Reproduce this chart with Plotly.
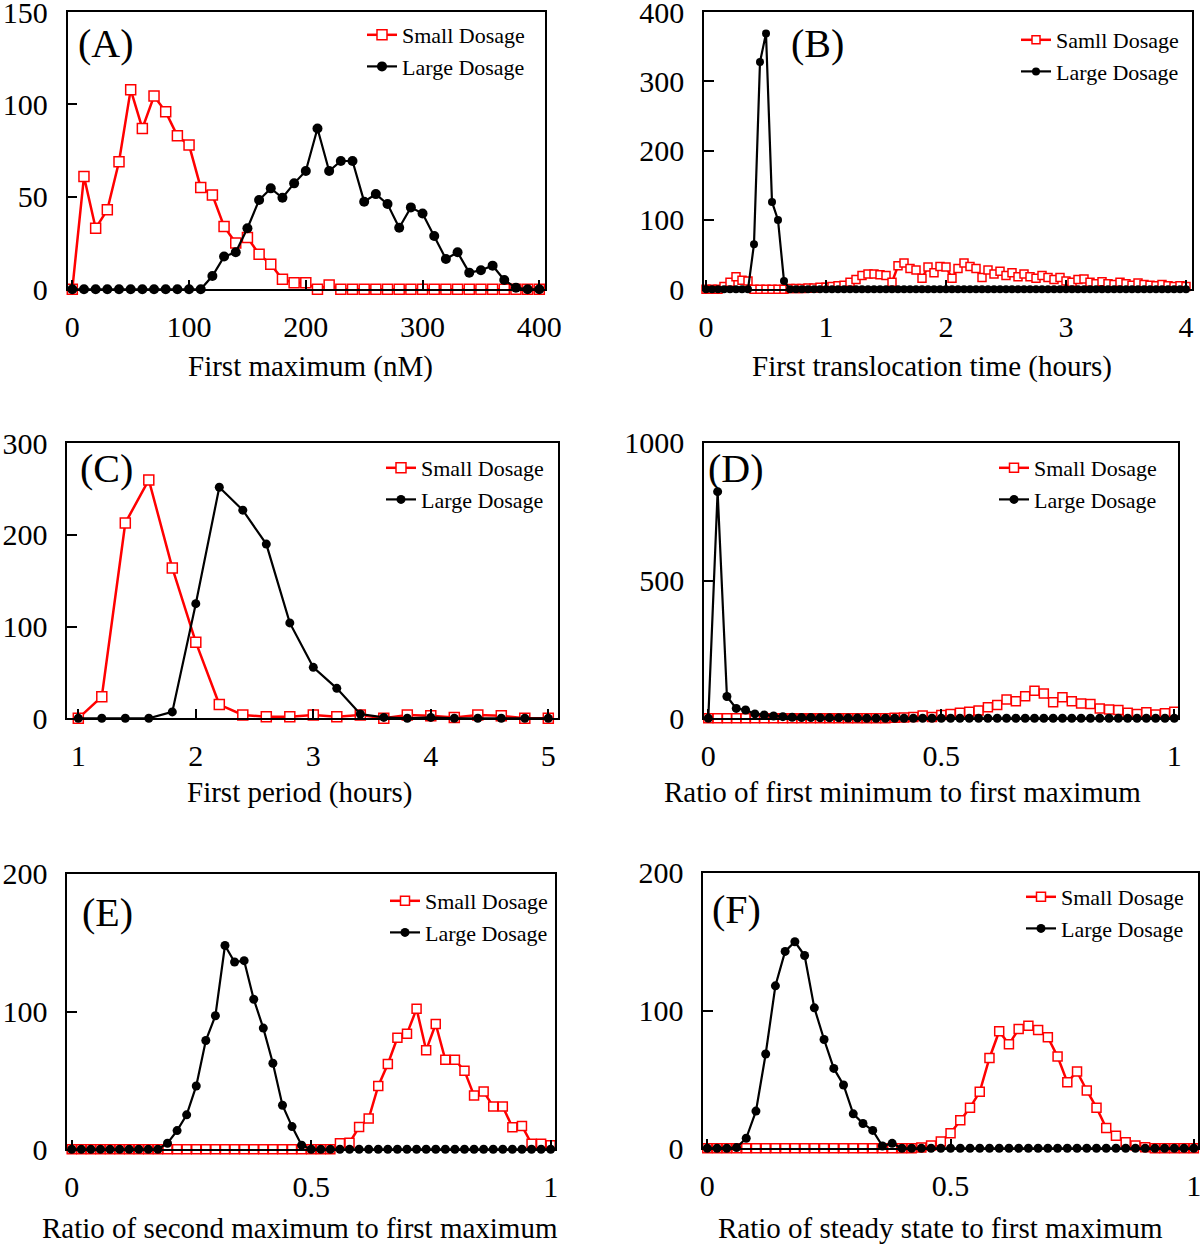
import plotly.graph_objects as go

# ---------------- data ----------------
a_x = [0, 10, 20, 30, 40, 50, 60, 70, 80, 90, 100, 110, 120, 130, 140, 150, 160, 170, 180, 190, 200,
       210, 220, 230, 240, 250, 260, 270, 280, 290, 300, 310, 320, 330, 340, 350, 360, 370, 380, 390, 400]
a_small = [0, 61, 33, 43, 69, 108, 87, 104.5, 96, 83, 78, 55, 51, 34, 25, 28, 19, 13.5, 5.4, 3.6, 3.6,
           0, 2.3, 0, 0, 0, 0, 0, 0, 0, 0, 0, 0, 0, 0, 0, 0, 0, 0, 0, 0]
a_large = [0, 0, 0, 0, 0, 0, 0, 0, 0, 0, 0, 0, 7.2, 17.7, 20, 33, 48.3, 54.6, 49.5, 57.3, 64,
           87, 64, 69.4, 69.4, 47.4, 51.5, 46.1, 33.3, 44.3, 41, 28.8, 16.4, 20, 9, 10.3, 12.8, 5, 0.9, 0, 0]

b_x = [0.0, 0.05, 0.1, 0.15, 0.2, 0.25, 0.3, 0.35, 0.4, 0.45, 0.5, 0.55, 0.6, 0.65, 0.7, 0.75, 0.8, 0.85,
       0.9, 0.95, 1.0, 1.05, 1.1, 1.15, 1.2, 1.25, 1.3, 1.35, 1.4, 1.45, 1.5, 1.55, 1.6, 1.65, 1.7, 1.75,
       1.8, 1.85, 1.9, 1.95, 2.0, 2.05, 2.1, 2.15, 2.2, 2.25, 2.3, 2.35, 2.4, 2.45, 2.5, 2.55, 2.6, 2.65,
       2.7, 2.75, 2.8, 2.85, 2.9, 2.95, 3.0, 3.05, 3.1, 3.15, 3.2, 3.25, 3.3, 3.35, 3.4, 3.45, 3.5, 3.55,
       3.6, 3.65, 3.7, 3.75, 3.8, 3.85, 3.9, 3.95, 4.0]
b_small = [0, 0, 0, 4, 10, 18, 13, 12, 0, 0, 0, 0, 0, 0, 1, 1, 1, 2, 2, 3, 3, 4, 5, 6, 10, 14, 20, 22,
           22, 21, 20, 10, 34, 38, 30, 28, 16, 32, 24, 33, 32, 16, 30, 38, 33, 30, 17, 28, 22, 26, 20,
           24, 18, 22, 18, 16, 20, 17, 14, 17, 12, 10, 14, 15, 10, 8, 11, 8, 7, 10, 8, 6, 9, 7, 6, 5,
           7, 5, 4, 5, 4]
b_large = [0, 0, 0, 0, 0, 0, 0, 0, 65, 328, 369, 126, 100, 12, 0, 0, 0, 0, 0, 0, 0, 0, 0, 0, 0, 0, 0,
           0, 0, 0, 0, 0, 0, 0, 0, 0, 0, 0, 0, 0, 0, 0, 0, 0, 0, 0, 0, 0, 0, 0, 0, 0, 0, 0, 0, 0, 0,
           0, 0, 0, 0, 0, 0, 0, 0, 0, 0, 0, 0, 0, 0, 0, 0, 0, 0, 0, 0, 0, 0, 0, 0]

c_x = [1.0, 1.2, 1.4, 1.6, 1.8, 2.0, 2.2, 2.4, 2.6, 2.8, 3.0, 3.2, 3.4, 3.6, 3.8, 4.0, 4.2, 4.4, 4.6, 4.8, 5.0]
c_small = [0, 23.6, 213, 260, 164, 83, 15, 3.6, 1.8, 1.8, 3.6, 1.8, 3.6, 0, 3.6, 2.7, 0.9, 3.6, 2.7, 0, 0]
c_large = [0, 0, 0, 0, 7, 125, 252, 227, 190, 104, 55.6, 32.7, 4.7, 1, 0, 1, 0, 0, 0, 0, 0]

r_x = [0.0, 0.02, 0.04, 0.06, 0.08, 0.1, 0.12, 0.14, 0.16, 0.18, 0.2, 0.22, 0.24, 0.26, 0.28, 0.3,
       0.32, 0.34, 0.36, 0.38, 0.4, 0.42, 0.44, 0.46, 0.48, 0.5, 0.52, 0.54, 0.56, 0.58, 0.6, 0.62,
       0.64, 0.66, 0.68, 0.7, 0.72, 0.74, 0.76, 0.78, 0.8, 0.82, 0.84, 0.86, 0.88, 0.9, 0.92, 0.94,
       0.96, 0.98, 1.0]
d_small = [0, 0, 0, 0, 0, 0, 0, 0, 0, 0, 0, 0, 0, 0, 0, 0, 0, 0, 0, 0, 2, 3, 5, 10, 5, 12, 16, 20, 24,
           28, 40, 48, 68, 62, 80, 100, 90, 58, 76, 62, 54, 52, 36, 32, 30, 20, 16, 22, 14, 18, 24]
d_large = [0, 823, 79, 36, 30, 16, 12, 8.5, 6, 4, 3, 3, 2, 2, 2, 1, 1, 0, 0, 0, 0, 0, 0, 0, 0, 0, 0,
           0, 0, 0, 0, 0, 0, 0, 0, 0, 0, 0, 0, 0, 0, 0, 0, 0, 0, 0, 0, 0, 0, 0, 0]

e_small = [0, 0, 0, 0, 0, 0, 0, 0, 0, 0, 0, 0, 0, 0, 0, 0, 0, 0, 0, 0, 0, 0, 0, 0, 0, 0, 0, 0, 4.4,
           4.8, 16.2, 22.3, 46, 62, 81, 84, 102, 72, 91, 65, 65, 57, 39, 42, 31, 31, 16, 17, 4, 4, 3]
e_large = [0, 0, 0, 0, 0, 0, 0, 0, 0, 0, 4.4, 13.6, 25, 46, 79, 97, 148, 136, 137, 109, 88, 62.5, 32,
           16.5, 3, 0, 0, 0, 0, 0, 0, 0, 0, 0, 0, 0, 0, 0, 0, 0, 0, 0, 0, 0, 0, 0, 0, 0, 0, 0, 0]

f_small = [0, 0, 0, 0, 0, 0, 0, 0, 0, 0, 0, 0, 0, 0, 0, 0, 0, 0, 0, 0, 0, 0, 0.5, 2, 5, 11, 20.3,
           29.5, 41, 65.6, 85, 75.5, 86.6, 89, 86, 80.6, 66.6, 48, 55.7, 42, 29.5, 14.8, 9.2, 4.4, 2,
           0.7, 0, 0, 0, 0, 0]
f_large = [0, 0, 0, 0.5, 7.3, 27, 68.5, 118, 143, 150, 140, 102, 79, 58, 46, 25, 18, 13, 1.7, 3.6, 0,
           0, 0, 0, 0, 0, 0, 0, 0, 0, 0, 0, 0, 0, 0, 0, 0, 0, 0, 0, 0, 0, 0, 0, 0, 0, 0, 0, 0, 0, 0]

panel_labels = ["(A)", "(B)", "(C)", "(D)", "(E)", "(F)"]
x_titles = ["First maximum (nM)", "First translocation time (hours)", "First period (hours)",
            "Ratio of first minimum to first maximum", "Ratio of second maximum to first maximum",
            "Ratio of steady state to first maximum"]
small_names = ["Small Dosage", "Samll Dosage", "Small Dosage", "Small Dosage", "Small Dosage", "Small Dosage"]
large_name = "Large Dosage"
x_tickvals = [[0, 100, 200, 300, 400], [0, 1, 2, 3, 4], [1, 2, 3, 4, 5], [0, 0.5, 1], [0, 0.5, 1], [0, 0.5, 1]]
x_ticktext = [["0", "100", "200", "300", "400"], ["0", "1", "2", "3", "4"], ["1", "2", "3", "4", "5"],
              ["0", "0.5", "1"], ["0", "0.5", "1"], ["0", "0.5", "1"]]
y_tickvals = [[0, 50, 100, 150], [0, 100, 200, 300, 400], [0, 100, 200, 300], [0, 500, 1000],
              [0, 100, 200], [0, 100, 200]]

xs = [a_x, b_x, c_x, r_x, r_x, r_x]
smalls = [a_small, b_small, c_small, d_small, e_small, f_small]
larges = [a_large, b_large, c_large, d_large, e_large, f_large]

# ---------------- geometry (pixels) ----------------
W, H = 1200, 1246
FONT = "Liberation Serif"
geom = [
    dict(l=67.5, r=545, t=12, b=289.3, v0=0, p0=72.3, k=1.1675, ymax=150,
         lab=(106, 44), ttl=(310, 367), leg=(362, 14), ms=10, ms2=10),
    dict(l=704, r=1192, t=12, b=289.3, v0=0, p0=706, k=120, ymax=400,
         lab=(817, 44), ttl=(932, 367), leg=(1016, 19), ms=8, ms2=8),
    dict(l=67.3, r=558, t=443.2, b=718.3, v0=1, p0=78.3, k=117.5, ymax=300,
         lab=(106, 469), ttl=(300, 792), leg=(381, 447), ms=10, ms2=9),
    dict(l=704, r=1177.7, t=442.9, b=718.3, v0=0, p0=708.3, k=466, ymax=1000,
         lab=(736, 469), ttl=(902, 792), leg=(994, 447), ms=9, ms2=9),
    dict(l=67.3, r=555, t=873.9, b=1149.3, v0=0, p0=71.7, k=479, ymax=200,
         lab=(107, 912), ttl=(300, 1228), leg=(385, 880), ms=9, ms2=9),
    dict(l=703.3, r=1197.7, t=872.9, b=1148.3, v0=0, p0=707.3, k=486.5, ymax=200,
         lab=(736, 909), ttl=(940, 1228), leg=(1021, 876), ms=9, ms2=9),
]

fig = go.Figure()
layout = dict(width=W, height=H, margin=dict(l=0, r=0, t=0, b=0, autoexpand=False),
              paper_bgcolor="white", plot_bgcolor="white",
              font=dict(family=FONT, color="black"), annotations=[])

for i, g in enumerate(geom):
    n = "" if i == 0 else str(i + 1)
    legname = "legend" if i == 0 else "legend" + str(i + 1)
    fig.add_trace(go.Scatter(
        x=xs[i], y=smalls[i], mode="lines+markers", name=small_names[i],
        xaxis="x" + n, yaxis="y" + n, legend=legname, legendgroup="s" + n, cliponaxis=False,
        line=dict(color="#ff0000", width=2.5),
        marker=dict(symbol="square", size=g["ms"], color="white", line=dict(color="#ff0000", width=1.5))))
    fig.add_trace(go.Scatter(
        x=xs[i], y=larges[i], mode="lines+markers", name=large_name,
        xaxis="x" + n, yaxis="y" + n, legend=legname, legendgroup="l" + n, cliponaxis=False,
        line=dict(color="black", width=2.2),
        marker=dict(symbol="circle", size=g["ms2"], color="black")))

    xr = [g["v0"] + (g["l"] - g["p0"]) / g["k"], g["v0"] + (g["r"] - g["p0"]) / g["k"]]
    common = dict(showline=True, mirror=True, linecolor="black", linewidth=1.5, ticks="inside",
                  ticklen=10, tickwidth=1.5, tickcolor="black", showgrid=False, zeroline=False,
                  automargin=False, ticklabeloverflow="allow",
                  tickfont=dict(family=FONT, size=30, color="black"))
    layout["xaxis" + n] = dict(common, domain=[g["l"] / W, g["r"] / W], range=xr, anchor="y" + n,
                               tickvals=x_tickvals[i], ticktext=x_ticktext[i], ticklabelstandoff=10)
    layout["yaxis" + n] = dict(common, domain=[1 - g["b"] / H, 1 - g["t"] / H], range=[0, g["ymax"]],
                               anchor="x" + n, tickvals=y_tickvals[i], ticklabelstandoff=12)
    layout[legname] = dict(x=g["leg"][0] / W, y=1 - g["leg"][1] / H, xanchor="left", yanchor="top",
                           bgcolor="rgba(0,0,0,0)", borderwidth=0, tracegroupgap=4,
                           font=dict(family=FONT, size=22, color="black"), traceorder="normal")
    layout["annotations"].append(dict(text=panel_labels[i], x=g["lab"][0] / W, y=1 - g["lab"][1] / H,
                                      xref="paper", yref="paper", showarrow=False,
                                      xanchor="center", yanchor="middle",
                                      font=dict(family=FONT, size=40, color="black")))
    layout["annotations"].append(dict(text=x_titles[i], x=g["ttl"][0] / W, y=1 - g["ttl"][1] / H,
                                      xref="paper", yref="paper", showarrow=False,
                                      xanchor="center", yanchor="middle",
                                      font=dict(family=FONT, size=29, color="black")))

fig.update_layout(**layout)
fig.write_html("out.html", config={"displayModeBar": False},
               post_script="document.body.style.margin='0px';document.body.style.overflow='hidden';")
